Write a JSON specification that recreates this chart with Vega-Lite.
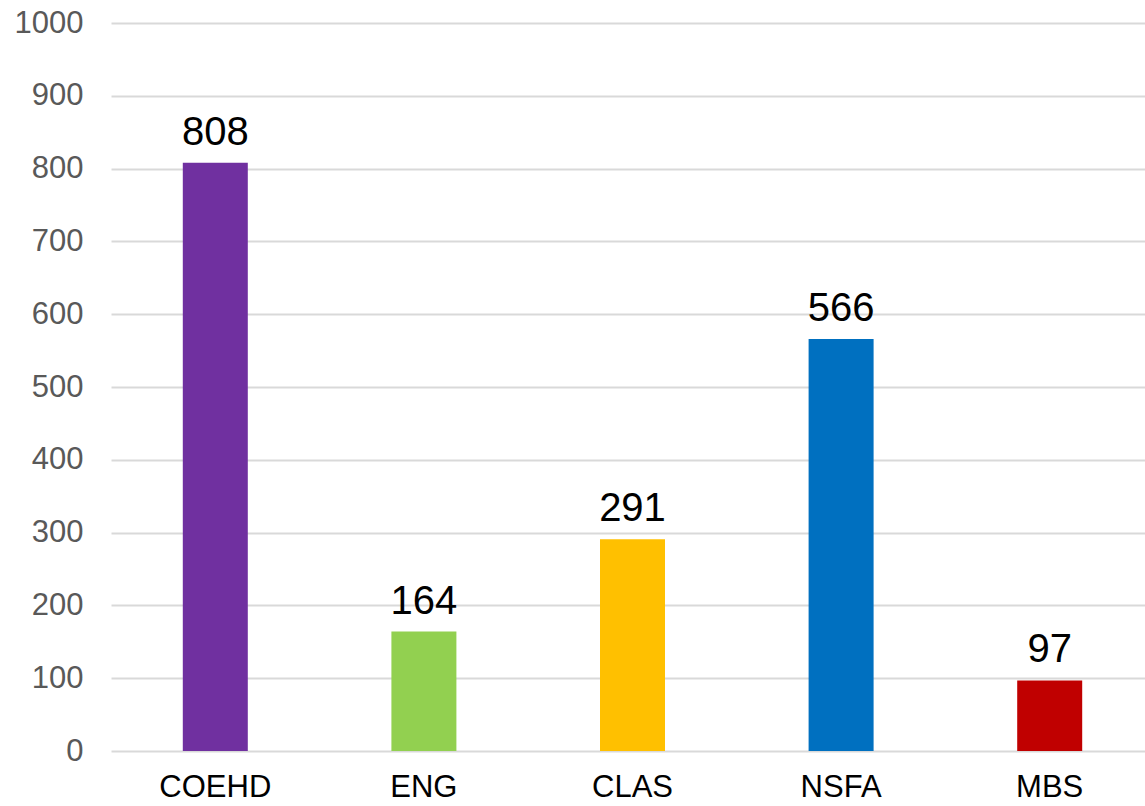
{
  "$schema": "https://vega.github.io/schema/vega-lite/v6.json",
  "width": 1043,
  "height": 728,
  "autosize": {"type": "none"},
  "padding": {"left": 111, "top": 23, "right": 0, "bottom": 55},
  "background": "white",
  "config": {"view": {"stroke": null}, "font": "Liberation Sans"},
  "data": {
    "values": [
      {"college": "COEHD", "count": 808, "color": "#7030A0"},
      {"college": "ENG", "count": 164, "color": "#92D050"},
      {"college": "CLAS", "count": 291, "color": "#FFC000"},
      {"college": "NSFA", "count": 566, "color": "#0070C0"},
      {"college": "MBS", "count": 97, "color": "#C00000"}
    ]
  },
  "encoding": {
    "x": {
      "field": "college",
      "type": "nominal",
      "sort": null,
      "scale": {"paddingInner": 0, "paddingOuter": 0},
      "axis": {
        "title": null,
        "labelAngle": 0,
        "labelFontSize": 31,
        "labelColor": "#000000",
        "labelPadding": 21,
        "ticks": false,
        "domain": false,
        "grid": false
      }
    },
    "y": {
      "field": "count",
      "type": "quantitative",
      "scale": {"domain": [0, 1000], "nice": false},
      "axis": {
        "title": null,
        "format": "d",
        "values": [0, 100, 200, 300, 400, 500, 600, 700, 800, 900, 1000],
        "labelFontSize": 31,
        "labelColor": "#595959",
        "labelPadding": 28,
        "ticks": false,
        "domain": false,
        "gridColor": "#D9D9D9",
        "gridWidth": 2
      }
    }
  },
  "layer": [
    {
      "mark": {"type": "bar", "width": 65},
      "encoding": {
        "color": {"field": "color", "type": "nominal", "scale": null}
      }
    },
    {
      "mark": {"type": "text", "fontSize": 40, "baseline": "alphabetic", "dy": -18, "color": "#000000"},
      "encoding": {"text": {"field": "count", "type": "quantitative"}}
    }
  ]
}
